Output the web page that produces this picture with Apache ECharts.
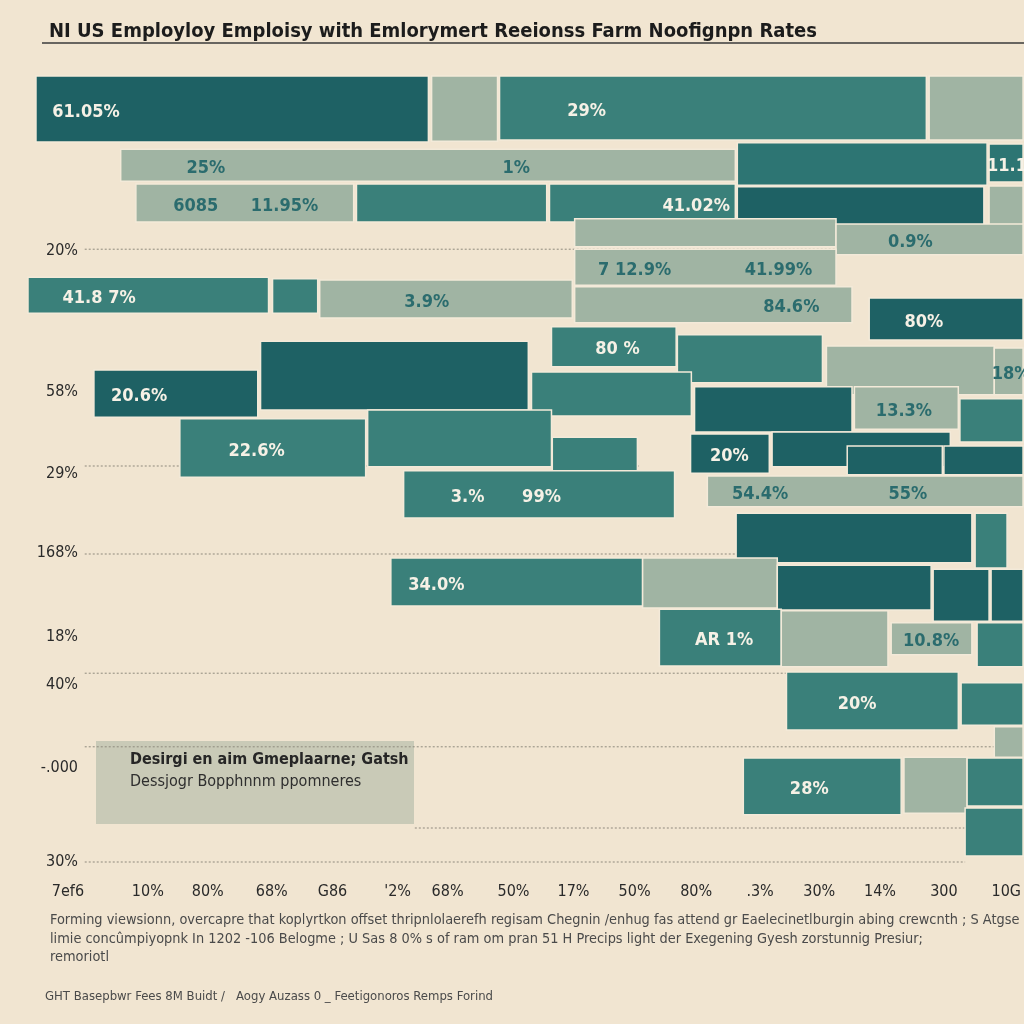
<!DOCTYPE html>
<html>
<head>
<meta charset="utf-8">
<script src="https://cdn.jsdelivr.net/npm/echarts@6/dist/echarts.min.js"></script>
<style>
html,body{margin:0;padding:0;background:#f1e5d1;}
#c{width:1024px;height:1024px;}
</style>
</head>
<body>
<div id="c"></div>
<script>
// ---- data ----
const titleText = "NI US Employloy Emploisy with Emlorymert Reeionss Farm Noofignpn Rates";
const xTickPos = [8.5, 18.5, 26, 34, 41.6, 49.75, 56, 64.25, 71.75, 79.4, 87.1, 95.1, 102.5, 110.1, 118.1, 125.9];
const xTickText = ["7ef6", "10%", "80%", "68%", "G86", "'2%", "68%", "50%", "17%", "50%", "80%", ".3%", "30%", "14%", "300", "10G"];
const yTickPos = [23.6, 41.25, 51.5, 61.4, 71.9, 77.9, 88.25, 100];
const yTickText = ["20%", "58%", "29%", "168%", "18%", "40%", "-.000", "30%"];

const barStart  = [4.5,54,62.5,116.25, 15.1,92.25,123.75, 17,44.6,68.75,92.25,123.75, 71.9,104.6,71.9, 3.5,34.1,40,71.9,108.75, 69,84.75,103.4,124.4, 32.6,11.75,66.5,86.9,106.9,120.1, 22.5,46,69.1,86.4,96.6,106,118.1, 50.5,88.5,92.1,122, 48.9,80.4,97.25,116.75,124, 82.5,97.75,111.5,122.25, 98.4,120.25,124.4, 93,113.1,121,120.75];
const barEnd    = [53.6,62.25,115.9,128, 92,123.5,128, 44.25,68.4,92,123.1,128, 104.6,128,104.6, 33.6,39.75,71.6,106.6,128, 84.6,102.9,124.4,128, 66.1,32.25,86.5,106.6,119.9,128, 45.75,69,79.75,96.25,118.9,117.9,128, 84.4,128,121.6,126, 80.4,97.25,116.5,123.75,128, 97.75,111.1,121.6,128, 119.9,128,128, 112.75,121,128,128];
const barTop    = [1.75,1.75,1.75,1.75, 10.9,10.1,10.25, 15.25,15.25,15.25,15.6,15.5, 19.6,20.25,23.4, 26.9,27.1,27.25,28.1,29.5, 33.1,34.1,35.5,35.75, 34.9,38.5,38.75,40.6,40.6,42.1, 44.6,43.5,46.9,46.5,46.25,48,48, 51.1,51.75,56.4,56.4, 62,62,62.9,63.4,63.4, 68.4,68.6,70.1,70.1, 76.25,77.6,83.1, 87,86.9,87,93.25];
const barBottom = [10,9.9,9.75,9.75, 14.9,15.4,15, 20,20,20,20.4,20.4, 23.1,24.1,27.9, 31.4,31.4,32,32.6,34.75, 38.1,40.1,41.6,41.6, 43.5,44.4,44.25,46.25,45.9,47.5, 51.9,50.6,51.25,51.4,50.6,51.6,51.6, 57,55.6,62.6,63.25, 68,68.25,68.5,69.9,69.9, 75.5,75.6,74.1,75.6, 83.5,82.9,86.9, 94.1,93.9,93,99.25];
// tone: 0 dark teal, 1 deep teal, 2 teal, 3 sage
const barTone   = [0,3,2,3, 3,1,1, 3,2,2,0,3, 3,3,3, 2,2,3,3,0, 2,2,3,3, 0,0,2,0,3,2, 2,2,2,0,0,0,0, 2,3,0,2, 2,3,0,0,0, 2,3,3,2, 2,2,3, 2,3,2,2];

const labelBar  = [0,2,4,4,6,7,7,9,13,14,14,15,17,18,19,20,23,25,28,30,33,37,37,38,38,41,46,48,50,53];
const labelX    = [10.75,73.4,25.75,64.6,126,24.5,35.6,87.1,113.9,79.4,97.4,12.4,53.4,99,115.6,77.25,126.5,17.4,113.1,32.1,91.25,58.5,67.75,95.1,113.6,54.6,90.6,116.5,107.25,101.25];
const labelText = ["61.05%","29%","25%","1%","11.1","6085","11.95%","41.02%","0.9%","7 12.9%","41.99%","41.8 7%","3.9%","84.6%","80%","80 %","18%","20.6%","13.3%","22.6%","20%","3.%","99%","54.4%","55%","34.0%","AR 1%","10.8%","20%","28%"];

const gridY    = [23.4, 50.5, 61.5, 76.4, 85.6, 95.75, 100];
const gridFrom = [10.6, 10.6, 10.6, 10.6, 10.6, 51.9, 10.6];
const gridTo   = [128, 80, 92, 98.4, 124.4, 121, 120.75];

const noteLines = [
  "Forming viewsionn, overcapre that koplyrtkon offset thripnlolaerefh regisam Chegnin /enhug fas attend gr Eaelecinetlburgin abing crewcnth ; S Atgse",
  "limie concûmpiyopnk In 1202 -106 Belogme ; U Sas 8 0% s of ram om pran 51 H Precips light der Exegening Gyesh zorstunnig Presiur;",
  "remoriotl"
];
const sourceText = "GHT Basepbwr Fees 8M Buidt /   Aogy Auzass 0 _ Feetigonoros Remps Forind";
const boxLines = ["Desirgi en aim Gmeplaarne; Gatsh", "Dessjogr Bopphnnm ppomneres"];

// ---- chart ----
const tones = ['#1e6164', '#2d7573', '#3a807a', '#a0b4a3'];
const FONT = '"Liberation Sans Narrow", "DejaVu Sans Condensed", "Liberation Sans", sans-serif';

const bars = barStart.map((s, i) => [s, barEnd[i], barTop[i], barBottom[i], barTone[i]]);
const labels = labelBar.map((b, i) => [labelX[i], (barTop[b] + barBottom[b]) / 2, barTone[b], labelText[i]]);
const grids = gridY.map((y, i) => [gridFrom[i], gridTo[i], y]);

const chart = echarts.init(document.getElementById('c'), null, {renderer: 'canvas'});
chart.setOption({
  backgroundColor: '#f1e5d1',
  animation: false,
  title: {
    text: titleText, left: 44, top: 17,
    textStyle: {fontFamily: FONT, fontSize: 20, fontWeight: 'bold', color: '#1c1c1c'}
  },
  grid: {left: 0, right: 0, top: 62, bottom: 162, containLabel: false},
  xAxis: {
    type: 'value', min: 0, max: 128,
    axisLine: {show: false}, axisTick: {show: false}, splitLine: {show: false},
    axisLabel: {
      customValues: xTickPos, margin: 22,
      fontFamily: FONT, fontSize: 16, color: '#2a2a2a',
      formatter: v => { const i = xTickPos.indexOf(v); return i >= 0 ? xTickText[i] : ''; }
    }
  },
  yAxis: {
    type: 'value', min: 0, max: 100, inverse: true, offset: -86,
    axisLine: {show: false}, axisTick: {show: false}, splitLine: {show: false},
    axisLabel: {
      customValues: yTickPos, margin: 8,
      fontFamily: FONT, fontSize: 16, color: '#2a2a2a',
      formatter: v => { const i = yTickPos.indexOf(v); return i >= 0 ? yTickText[i] : ''; }
    }
  },
  series: [
    {
      type: 'custom', z: 1, silent: true, data: grids,
      renderItem: (p, api) => {
        const a = api.coord([api.value(0), api.value(2)]);
        const b = api.coord([api.value(1), api.value(2)]);
        return {type: 'line', shape: {x1: a[0], y1: a[1], x2: b[0], y2: b[1]},
          style: {stroke: '#8f8a7e', lineWidth: 1, lineDash: [2, 2]}};
      }
    },
    {
      type: 'custom', z: 2, data: bars, clip: false,
      renderItem: (p, api) => {
        const a = api.coord([api.value(0), api.value(2)]);
        const b = api.coord([api.value(1), api.value(3)]);
        return {type: 'rect', shape: {x: a[0], y: a[1], width: b[0] - a[0], height: b[1] - a[1]},
          style: {fill: tones[api.value(4)], stroke: '#f3ead9', lineWidth: 1.5}};
      }
    },
    {
      type: 'custom', z: 3, data: labels,
      renderItem: (p, api) => {
        const pt = api.coord([api.value(0), api.value(1)]);
        const tone = api.value(2);
        return {type: 'text', x: pt[0], y: pt[1] + 3,
          style: {text: labels[p.dataIndex][3], textAlign: 'center', textVerticalAlign: 'middle',
            fill: tone === 3 ? '#2b6c6e' : '#f6f1e6', font: '600 18px ' + FONT}};
      }
    }
  ],
  graphic: [
    {type: 'line', shape: {x1: 42, y1: 43, x2: 1024, y2: 43}, style: {stroke: '#3a3a3a', lineWidth: 1.5}},
    {type: 'rect', left: 96, top: 741, shape: {width: 318, height: 83}, style: {fill: '#c9cab7'}},
    {type: 'text', left: 130, top: 752, style: {text: boxLines[0], font: '600 16px ' + FONT, fill: '#262626'}},
    {type: 'text', left: 130, top: 774, style: {text: boxLines[1], font: '16px ' + FONT, fill: '#2e2e2e'}},
    {type: 'text', left: 50, top: 913, style: {text: noteLines[0], font: '14.4px ' + FONT, fill: '#4a4a4a'}},
    {type: 'text', left: 50, top: 932, style: {text: noteLines[1], font: '14.4px ' + FONT, fill: '#4a4a4a'}},
    {type: 'text', left: 50, top: 950, style: {text: noteLines[2], font: '14.4px ' + FONT, fill: '#4a4a4a'}},
    {type: 'text', left: 45, top: 990, style: {text: sourceText, font: '13px ' + FONT, fill: '#4a4a4a'}}
  ]
});
</script>
</body>
</html>
